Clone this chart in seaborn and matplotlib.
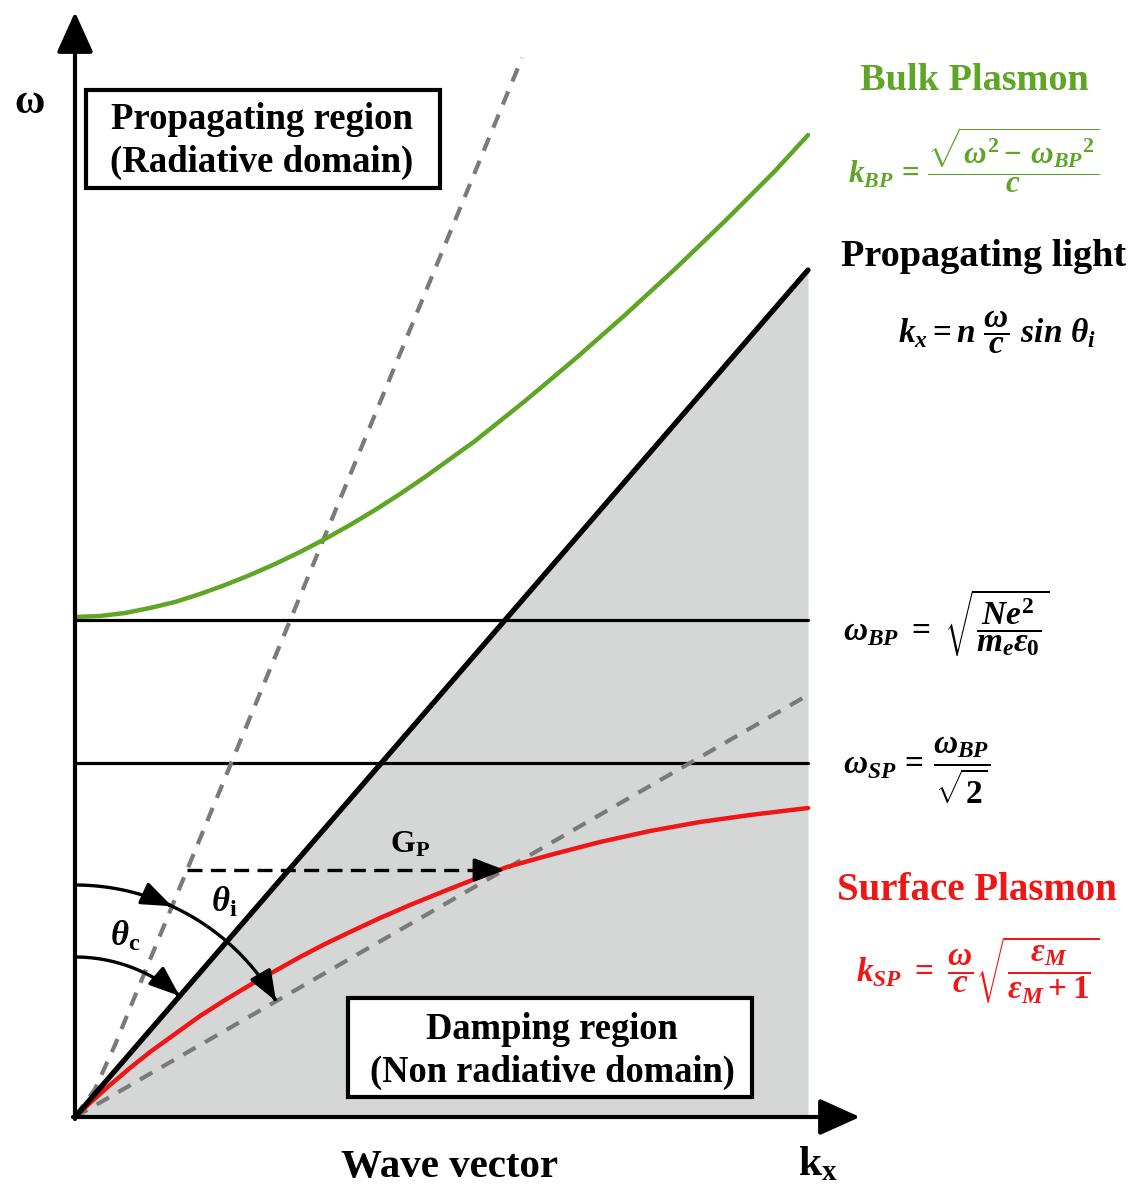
import numpy as np
import matplotlib
matplotlib.use("Agg")
import matplotlib.pyplot as plt
import seaborn as sns
from matplotlib.patches import Rectangle, FancyArrowPatch, ArrowStyle
from matplotlib.path import Path

# ---------------- data (wave vector k_x, frequency omega), drawing units ----------------
bulk_k = [0, 25, 50, 75, 100, 125, 150, 175, 200, 225, 250, 275, 300, 325, 350,
          375, 400, 425, 450, 475, 500, 525, 550, 575, 600, 625, 650, 675, 700, 733]
bulk_w = [500, 501, 504, 509, 515, 523, 532, 542, 553, 565, 578, 592, 607, 623, 640,
          658, 676, 696, 716, 737, 758, 780, 802, 825, 848, 872, 896, 921, 946, 982]

surf_k = [0, 15, 35, 55, 75, 100, 125, 150, 175, 200, 225, 250, 275, 305, 335,
          372, 405, 432, 475, 525, 575, 625, 675, 733]
surf_w = [0, 14, 32, 49, 65, 83, 101, 117, 132, 146, 160, 173, 185, 199, 212,
          227, 240, 250, 262, 275, 286, 295, 302, 309]

light_k = [0, 733]
light_w = [0, 847]

steep_k = [0, 20, 40, 60, 200, 447]          # grey dashed (steep)
steep_w = [0, 28, 72, 121, 460, 1059]

shallow_k = [0, 733]                          # grey dashed (shallow)
shallow_w = [0, 422]

omega_bp = 497
omega_sp = 354
k_max = 733
gp_level = 247
r_theta_i = 232
r_theta_c = 160

# ---------------- style ----------------
sns.set_theme(style="white")
plt.rcParams["font.family"] = ["Liberation Serif", "DejaVu Serif"]
plt.rcParams["text.color"] = "black"
plt.rcParams["mathtext.fontset"] = "custom"
plt.rcParams["mathtext.rm"] = "Liberation Serif:bold"
plt.rcParams["mathtext.it"] = "Liberation Serif:italic:bold"
plt.rcParams["mathtext.bf"] = "Liberation Serif:bold"
plt.rcParams["mathtext.sf"] = "Liberation Serif:bold"

GREEN = "#5fa526"
RED = "#f01616"
GREY = "#7a7a7a"
SHADE = "#d5d7d7"

fig = plt.figure(figsize=(11.45, 11.91), dpi=100)
ax = fig.add_axes([0, 0, 1, 1])
ax.set_xlim(-75, 1070)
ax.set_ylim(-74, 1117)
ax.axis("off")


def P(px, py):
    return (px - 75, 1117 - py)


# shaded non-radiative region (below the light line)
ax.fill_between(light_k, [0, 0], light_w, color=SHADE, lw=0, zorder=0)
ax.add_patch(plt.Polygon([[0, 0], [light_k[-1], light_w[-1]], [light_k[-1], 0]], closed=True,
                         facecolor=SHADE, edgecolor="none", zorder=0))

# horizontal frequency levels
ax.plot([0, k_max], [omega_bp, omega_bp], color="black", lw=2.3, zorder=2)
ax.plot([0, k_max], [omega_sp, omega_sp], color="black", lw=2.3, zorder=2)

# grey dashed lines
ax.plot(steep_k, steep_w, color=GREY, lw=3.0, dashes=(3.4, 2.6), zorder=3)
ax.plot(shallow_k, shallow_w, color=GREY, lw=3.0, dashes=(3.4, 2.6), zorder=3)

# curves
sns.lineplot(x=bulk_k, y=bulk_w, ax=ax, color=GREEN, lw=3.2, sort=False, estimator=None, zorder=4)
sns.lineplot(x=surf_k, y=surf_w, ax=ax, color=RED, lw=3.2, sort=False, estimator=None, zorder=4)
sns.lineplot(x=light_k, y=light_w, ax=ax, color="black", lw=3.8, sort=False, estimator=None, zorder=5)

# axes arrows
big = ArrowStyle("-|>", head_length=1.0, head_width=0.45)
ax.add_patch(FancyArrowPatch(P(75, 1119), P(75, 12), arrowstyle=big, mutation_scale=25,
                             lw=3, color="black", shrinkA=0, shrinkB=0, zorder=6))
ax.add_patch(FancyArrowPatch(P(73, 1117), P(860, 1117), arrowstyle=big, mutation_scale=25,
                             lw=3, color="black", shrinkA=0, shrinkB=0, zorder=6))

# G_P dashed arrow
small = ArrowStyle("-|>", head_length=1.1, head_width=0.42)
gk0 = np.interp(gp_level, steep_w, steep_k)
gk1 = np.interp(gp_level, surf_w, surf_k) + 6
ax.plot([gk0, gk1 - 18], [gp_level, gp_level], color="black", lw=2.4, dashes=(4.5, 2.5), zorder=6)
ax.add_patch(FancyArrowPatch((gk1 - 28, gp_level), (gk1, gp_level), arrowstyle=small, mutation_scale=17,
                             lw=2.4, color="black", shrinkA=0, shrinkB=0, zorder=6))


# angle arcs
def arc(r, a0, a1, n=80):
    t = np.radians(np.linspace(a0, a1, n))
    return np.column_stack([r * np.cos(t), r * np.sin(t)])


ang_shallow = np.degrees(np.arctan2(shallow_w[-1], shallow_k[-1]))
ang_light = np.degrees(np.arctan2(light_w[-1], light_k[-1]))
kk = np.linspace(0, steep_k[-1], 4000)
ww = np.interp(kk, steep_k, steep_w)
i_mid = np.argmin(np.abs(np.hypot(kk, ww) - r_theta_i))
ang_mid = np.degrees(np.arctan2(ww[i_mid], kk[i_mid]))

for r, a0, a1 in [(r_theta_i, 90, ang_mid), (r_theta_i, ang_mid, ang_shallow), (r_theta_c, 90, ang_light)]:
    ax.add_patch(FancyArrowPatch(path=Path(arc(r, a0, a1)), arrowstyle=small, mutation_scale=17,
                                 lw=2.4, color="black", zorder=7))

# boxes
for (x0, y0, x1, y1) in [(86, 90, 440, 188), (348, 998, 752, 1097)]:
    a = P(x0, y1)
    ax.add_patch(Rectangle(a, x1 - x0, y1 - y0, facecolor="white", edgecolor="black", lw=3, zorder=8))

ax.text(*P(262, 141), "Propagating region\n(Radiative domain)", ha="center", va="center",
        fontsize=26.5, fontweight="bold", linespacing=1.3, zorder=9)
ax.text(*P(552, 1051), "Damping region\n(Non radiative domain)", ha="center", va="center",
        fontsize=26.3, fontweight="bold", linespacing=1.3, zorder=9)

# axis labels
ax.text(*P(30, 103), "ω", ha="center", va="center", fontsize=30, fontweight="bold")
ax.text(*P(450, 1167), "Wave vector", ha="center", va="center", fontsize=29.5, fontweight="bold")
ax.text(*P(818, 1165), r"$\mathbf{k}_{\mathbf{x}}$", ha="center", va="center", fontsize=30)

# angle / group labels
ax.text(*P(125, 937), r"$\theta_{\mathbf{c}}$", ha="center", va="center", fontsize=25)
ax.text(*P(224, 903), r"$\theta_{\mathbf{i}}$", ha="center", va="center", fontsize=25)
ax.text(*P(410, 845), r"$\mathbf{G}_{\mathbf{P}}$", ha="center", va="center", fontsize=23)

# right-hand legends / formulas
FS = 24
ax.text(*P(974, 80), "Bulk Plasmon", ha="center", va="center", fontsize=27.5, fontweight="bold", color=GREEN)
ax.text(*P(848, 160), r"$k_{BP}\,=\,\dfrac{\sqrt{\omega^{2}-\,\omega_{BP}{}^{2}}}{c}$", ha="left", va="center",
        fontsize=22.5, color=GREEN)
ax.text(*P(984, 256), "Propagating light", ha="center", va="center", fontsize=27.5, fontweight="bold")
ax.text(*P(898, 332), r"$k_x = n\ \dfrac{\omega}{c}\ sin\ \theta_i$", ha="left", va="center", fontsize=FS)
ax.text(*P(843, 622), r"$\omega_{BP}\ =\ \sqrt{\dfrac{Ne^{2}}{m_e\epsilon_0}}$", ha="left", va="center",
        fontsize=FS)
ax.text(*P(843, 770), r"$\omega_{SP}\,=\,\dfrac{\omega_{BP}}{\sqrt{2}}$", ha="left", va="center", fontsize=FS)
ax.text(*P(977, 890), "Surface Plasmon", ha="center", va="center", fontsize=28, fontweight="bold", color=RED)
ax.text(*P(856, 970), r"$k_{SP}\ =\ \dfrac{\omega}{c}\sqrt{\dfrac{\varepsilon_M}{\varepsilon_M+1}}$",
        ha="left", va="center", fontsize=FS, color=RED)

fig.savefig("out.png", dpi=100)
